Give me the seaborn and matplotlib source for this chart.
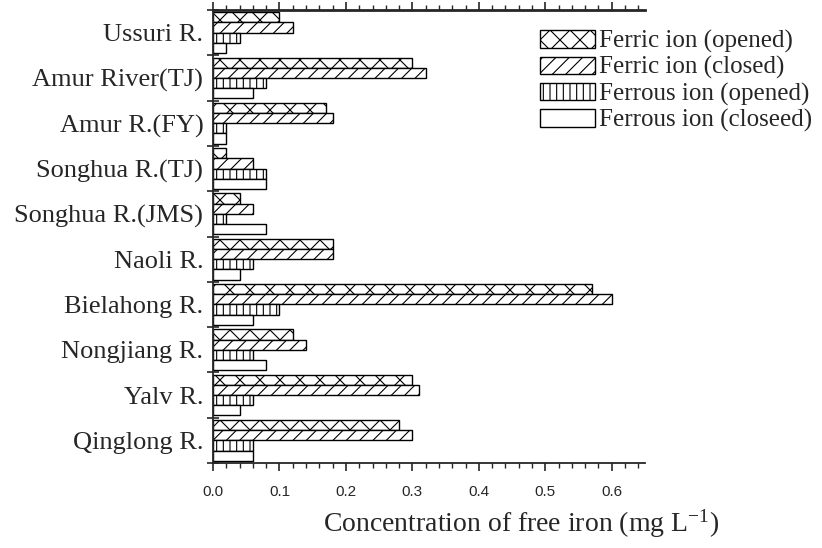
import matplotlib
matplotlib.use("Agg")
import matplotlib.pyplot as plt
import seaborn as sns
import pandas as pd
import numpy as np
from matplotlib.ticker import MultipleLocator, FixedLocator, NullFormatter
from matplotlib.patches import Patch

categories = ["Ussuri R.", "Amur River(TJ)", "Amur R.(FY)", "Songhua R.(TJ)",
              "Songhua R.(JMS)", "Naoli R.", "Bielahong R.", "Nongjiang R.",
              "Yalv R.", "Qinglong R."]
series_names = ["Ferric ion (opened)", "Ferric ion (closed)",
                "Ferrous ion (opened)", "Ferrous ion (closeed)"]
ferric_opened = [0.10, 0.30, 0.17, 0.02, 0.04, 0.18, 0.57, 0.12, 0.30, 0.28]
ferric_closed = [0.12, 0.32, 0.18, 0.06, 0.06, 0.18, 0.60, 0.14, 0.31, 0.30]
ferrous_opened = [0.04, 0.08, 0.02, 0.08, 0.02, 0.06, 0.10, 0.06, 0.06, 0.06]
ferrous_closed = [0.02, 0.06, 0.02, 0.08, 0.08, 0.04, 0.06, 0.08, 0.04, 0.06]
hatches = ["xx", "///", "|||", ""]

rows = []
for name, vals in zip(series_names, [ferric_opened, ferric_closed, ferrous_opened, ferrous_closed]):
    for c, v in zip(categories, vals):
        rows.append({"River": c, "Series": name, "Value": v})
df = pd.DataFrame(rows)

DPI = 120
k = 100.0 / DPI  # convert sizes tuned at 100 dpi

sns.set_style("ticks")
plt.rcParams["font.family"] = ["Liberation Serif", "DejaVu Serif"]
plt.rcParams["mathtext.fontset"] = "stix"
plt.rcParams["hatch.linewidth"] = 0.8 * k

fig = plt.figure(figsize=(822 / DPI, 548 / DPI), dpi=DPI)
ax = fig.add_axes([213 / 822, 1 - 463 / 548, 432 / 822, 453 / 548])

sns.barplot(data=df, y="River", x="Value", hue="Series", order=categories,
            hue_order=series_names, orient="h", width=0.9,
            palette=["white"] * 4, edgecolor="black", linewidth=1.0 * k,
            ax=ax, legend=False, saturation=1)

for cont, h in zip(ax.containers, hatches):
    for bar in cont:
        bar.set_hatch(h)
        bar.set_edgecolor("black")
        bar.set_facecolor("white")

ax.set_xlim(0, 0.65)
ax.set_ylim(9.5, -0.5)
ax.xaxis.set_minor_locator(MultipleLocator(0.02))
xt = np.arange(0, 0.61, 0.1)
ax.set_xticks(xt)
ax.set_xticklabels([f"{t:.1f}" for t in xt], fontfamily="Liberation Sans", fontsize=11 * k)
ax.tick_params(axis="x", which="major", direction="out", length=6 * k, width=1.2 * k,
               top=True, labeltop=False, pad=10 * k)
ax.tick_params(axis="x", which="minor", direction="out", length=3.5 * k, width=1.0 * k,
               top=True)

ax.yaxis.set_minor_locator(FixedLocator(np.arange(-0.5, 10, 1.0)))
ax.yaxis.set_minor_formatter(NullFormatter())
ax.tick_params(axis="y", which="major", length=0, labelsize=19 * k, pad=7 * k)
ax.tick_params(axis="y", which="minor", direction="inout", length=9 * k, width=1.2 * k)

ax.set_ylabel("")
ax.set_xlabel("Concentration of free iron (mg L$^{\\mathregular{-1}}$)", fontsize=20 * k)
ax.xaxis.set_label_coords((521 - 213) / 432, -(523 - 463) / 453)
ax.xaxis.label.set_va("center")

for s in ["left", "bottom"]:
    ax.spines[s].set_linewidth(1.3 * k)
ax.spines["top"].set_linewidth(2.0 * k)
ax.spines["right"].set_visible(False)

handles = [Patch(facecolor="white", edgecolor="black", hatch=h, linewidth=1.0 * k) for h in hatches]
fig.legend(handles, series_names, loc="upper left", bbox_to_anchor=(540 / 822, 1 - 30 / 548),
           frameon=False, fontsize=18 * k, handlelength=2.2, handleheight=0.7,
           handletextpad=0.15, labelspacing=0.13, borderaxespad=0, borderpad=0)

fig.savefig("out.png", dpi=DPI)
